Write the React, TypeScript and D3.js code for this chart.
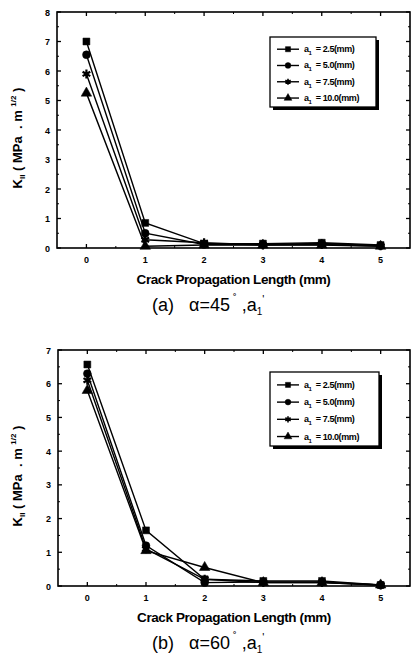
import * as d3 from 'd3';
import React, { useEffect, useRef } from 'react';

// crack propagation length (mm)
const lengths = [0, 1, 2, 3, 4, 5];
const xTickLabels = ['0', '1', '2', '3', '4', '5'];
const seriesNames = ['2.5', '5.0', '7.5', '10.0'];

// K_II for alpha = 45 deg
const k45_a25 = [7.0, 0.85, 0.15, 0.15, 0.18, 0.1];
const k45_a50 = [6.55, 0.5, 0.12, 0.12, 0.15, 0.08];
const k45_a75 = [5.9, 0.28, 0.18, 0.1, 0.12, 0.07];
const k45_a100 = [5.25, 0.06, 0.1, 0.1, 0.1, 0.06];

// K_II for alpha = 60 deg
const k60_a25 = [6.57, 1.65, 0.2, 0.15, 0.15, 0.03];
const k60_a50 = [6.3, 1.2, 0.1, 0.12, 0.12, 0.03];
const k60_a75 = [6.1, 1.1, 0.2, 0.1, 0.1, 0.03];
const k60_a100 = [5.8, 1.05, 0.55, 0.1, 0.1, 0.03];

const symbols = [d3.symbolSquare, d3.symbolCircle, d3.symbolAsterisk, d3.symbolTriangle];
const FONT = '"Liberation Sans", Arial, sans-serif';

function drawPanel(svg, opts) {
    const { top, bottom, left, right, yMax, series, caption, angle, legendBox } = opts;

    const x = d3.scaleLinear().domain([-0.5, 5.5]).range([left, right]);
    const y = d3.scaleLinear().domain([0, yMax]).range([bottom, top]);

    const g = svg.append('g');

    // frame
    g.append('rect')
        .attr('x', left).attr('y', top)
        .attr('width', right - left).attr('height', bottom - top)
        .attr('fill', 'none').attr('stroke', '#000').attr('stroke-width', 1.6);

    // ticks on all sides, pointing inwards
    const yMajor = d3.range(0, yMax + 1);
    const yMinor = d3.range(0.5, yMax, 1);
    yMajor.forEach(v => {
        g.append('line').attr('x1', left).attr('x2', left + 4).attr('y1', y(v)).attr('y2', y(v)).attr('stroke', '#000').attr('stroke-width', 1.3);
        g.append('line').attr('x1', right).attr('x2', right - 4).attr('y1', y(v)).attr('y2', y(v)).attr('stroke', '#000').attr('stroke-width', 1.3);
    });
    yMinor.forEach(v => {
        g.append('line').attr('x1', left).attr('x2', left + 2).attr('y1', y(v)).attr('y2', y(v)).attr('stroke', '#000');
        g.append('line').attr('x1', right).attr('x2', right - 2).attr('y1', y(v)).attr('y2', y(v)).attr('stroke', '#000');
    });
    lengths.forEach(v => {
        g.append('line').attr('x1', x(v)).attr('x2', x(v)).attr('y1', bottom).attr('y2', bottom - 4).attr('stroke', '#000').attr('stroke-width', 1.3);
        g.append('line').attr('x1', x(v)).attr('x2', x(v)).attr('y1', top).attr('y2', top + 4).attr('stroke', '#000').attr('stroke-width', 1.3);
    });
    d3.range(0.5, 5, 1).forEach(v => {
        g.append('line').attr('x1', x(v)).attr('x2', x(v)).attr('y1', bottom).attr('y2', bottom - 2).attr('stroke', '#000');
        g.append('line').attr('x1', x(v)).attr('x2', x(v)).attr('y1', top).attr('y2', top + 2).attr('stroke', '#000');
    });

    // tick labels
    g.selectAll('.ylab').data(yMajor).enter().append('text')
        .attr('x', left - 7).attr('y', d => y(d) + 3.5)
        .attr('text-anchor', 'end')
        .style('font', `bold 9px ${FONT}`)
        .text(d => d);
    g.selectAll('.xlab').data(lengths).enter().append('text')
        .attr('x', d => x(d)).attr('y', bottom + 15)
        .attr('text-anchor', 'middle')
        .style('font', `bold 9px ${FONT}`)
        .text((d, i) => xTickLabels[i]);

    // lines and markers
    const line = d3.line().x((d, i) => x(lengths[i])).y(d => y(d));
    series.forEach((vals, si) => {
        g.append('path').attr('d', line(vals))
            .attr('fill', 'none').attr('stroke', '#000').attr('stroke-width', 1.4);
        const sym = d3.symbol().type(symbols[si]).size(si === 2 ? 55 : 48);
        g.selectAll('.m' + si).data(vals).enter().append('path')
            .attr('d', sym())
            .attr('transform', (d, i) => `translate(${x(lengths[i])},${y(d)})`)
            .attr('fill', si === 2 ? 'none' : '#000')
            .attr('stroke', '#000').attr('stroke-width', si === 2 ? 2.2 : 0.5);
    });

    // legend with drop shadow
    const [lx, ly, lw, lh] = legendBox;
    g.append('rect').attr('x', lx + 3).attr('y', ly + 3).attr('width', lw).attr('height', lh).attr('fill', '#000');
    g.append('rect').attr('x', lx).attr('y', ly).attr('width', lw).attr('height', lh)
        .attr('fill', '#fff').attr('stroke', '#000').attr('stroke-width', 1.3);
    const rowStep = lh / 4.3;
    seriesNames.forEach((name, si) => {
        const ry = ly + rowStep * (si + 0.75);
        g.append('line').attr('x1', lx + 7).attr('x2', lx + 29).attr('y1', ry).attr('y2', ry)
            .attr('stroke', '#000').attr('stroke-width', 1.4);
        g.append('path').attr('d', d3.symbol().type(symbols[si]).size(26)())
            .attr('transform', `translate(${lx + 18},${ry})`)
            .attr('fill', si === 2 ? 'none' : '#000').attr('stroke', '#000').attr('stroke-width', si === 2 ? 1.6 : 0.5);
        const t = g.append('text').attr('x', lx + 34).attr('y', ry + 3)
            .style('font', `bold 9px ${FONT}`)
            .style('letter-spacing', '-0.4px')
            .style('white-space', 'pre');
        t.append('tspan').text('a');
        t.append('tspan').attr('dy', 3).style('font-size', '6px').text('1');
        t.append('tspan').attr('dy', -3).text('  = ' + name + '(mm)');
    });

    // y axis title
    const yt = g.append('text')
        .attr('transform', `translate(${22},${(top + bottom) / 2 + 8}) rotate(-90)`)
        .attr('text-anchor', 'middle')
        .style('font', `bold 13px ${FONT}`)
        .style('white-space', 'pre');
    yt.append('tspan').text('K');
    yt.append('tspan').attr('dy', 3).style('font-size', '8px').text('II');
    yt.append('tspan').attr('dy', -3).text(' ( MPa  . m ');
    yt.append('tspan').attr('dy', -6).style('font-size', '8px').text('1/2');
    yt.append('tspan').attr('dy', 6).text(' )');

    // x axis title
    g.append('text')
        .attr('x', (left + right) / 2 + 0).attr('y', bottom + 36)
        .attr('text-anchor', 'middle')
        .style('font', `bold 13.5px ${FONT}`)
        .style('letter-spacing', '-0.4px')
        .text('Crack Propagation Length (mm)');

    // caption
    const cap = g.append('text')
        .attr('x', 152).attr('y', bottom + 63)
        .style('font', `18px ${FONT}`)
        .style('white-space', 'pre');
    cap.append('tspan').text(caption + '   ');
    cap.append('tspan').text('\u03b1=' + angle);
    cap.append('tspan').attr('dy', -9).style('font-size', '11px').text(' \u02da');
    cap.append('tspan').attr('dy', 9).text(' ,a');
    cap.append('tspan').attr('dy', 4).style('font-size', '10px').text('1');
    cap.append('tspan').attr('dy', -12).style('font-size', '11px').text('\'');
}

function App() {
    const ref = useRef(null);

    useEffect(() => {
        const svg = d3.select(ref.current);
        svg.selectAll('*').remove();

        svg.append('rect').attr('width', 415).attr('height', 659).attr('fill', '#fff');

        drawPanel(svg, {
            top: 12, bottom: 248, left: 57, right: 410, yMax: 8,
            series: [k45_a25, k45_a50, k45_a75, k45_a100],
            caption: '(a)', angle: '45',
            legendBox: [270, 37, 106, 70],
        });

        drawPanel(svg, {
            top: 350, bottom: 586, left: 58, right: 410, yMax: 7,
            series: [k60_a25, k60_a50, k60_a75, k60_a100],
            caption: '(b)', angle: '60',
            legendBox: [270, 372, 109, 74],
        });
    }, []);

    return (
        <svg ref={ref} width={415} height={659}
            style={{ position: 'absolute', left: 0, top: 0 }}></svg>
    );
}

export default App;
